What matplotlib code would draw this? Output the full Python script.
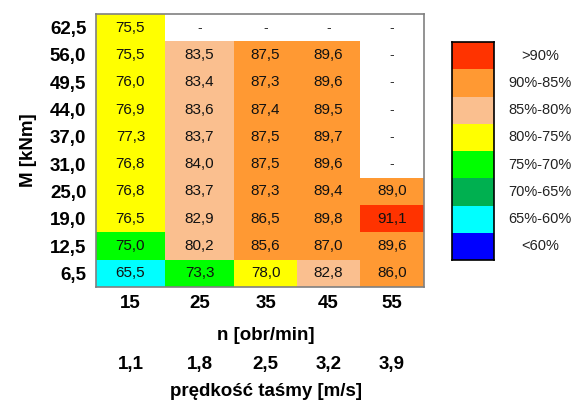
import numpy as np
import matplotlib.pyplot as plt
from matplotlib.patches import Rectangle
from matplotlib.colors import ListedColormap, BoundaryNorm
from matplotlib.transforms import blended_transform_factory

plt.rcParams['font.family'] = ['Liberation Sans', 'DejaVu Sans']

# moment obciazenia (od gory), predkosc obrotowa, predkosc tasmy
M_labels = ['62,5', '56,0', '49,5', '44,0', '37,0', '31,0', '25,0', '19,0', '12,5', '6,5']
n_labels = ['15', '25', '35', '45', '55']
v_labels = ['1,1', '1,8', '2,5', '3,2', '3,9']

# sprawnosc [%], NaN = brak pomiaru
eff = np.array([
    [75.5, np.nan, np.nan, np.nan, np.nan],
    [75.5, 83.5, 87.5, 89.6, np.nan],
    [76.0, 83.4, 87.3, 89.6, np.nan],
    [76.9, 83.6, 87.4, 89.5, np.nan],
    [77.3, 83.7, 87.5, 89.7, np.nan],
    [76.8, 84.0, 87.5, 89.6, np.nan],
    [76.8, 83.7, 87.3, 89.4, 89.0],
    [76.5, 82.9, 86.5, 89.8, 91.1],
    [75.0, 80.2, 85.6, 87.0, 89.6],
    [65.5, 73.3, 78.0, 82.8, 86.0],
])

# klasa sprawnosci komorki (0 = <60% ... 7 = >90%)
klasa = np.array([
    [4, -1, -1, -1, -1],
    [4, 5, 6, 6, -1],
    [4, 5, 6, 6, -1],
    [4, 5, 6, 6, -1],
    [4, 5, 6, 6, -1],
    [4, 5, 6, 6, -1],
    [4, 5, 6, 6, 6],
    [4, 5, 6, 6, 7],
    [3, 5, 6, 6, 6],
    [1, 3, 4, 5, 6],
])

legend_labels = ['<60%', '65%-60%', '70%-65%', '75%-70%', '80%-75%', '85%-80%', '90%-85%', '>90%']
kolory = ['#0000FF', '#00FFFF', '#00B050', '#00FF00', '#FFFF00', '#FABF8F', '#FF9933', '#FF3300']

W, H = 573, 403
fig = plt.figure(figsize=(W / 100, H / 100), dpi=100)
ax = fig.add_axes([96 / W, 1 - 287 / H, 328 / W, 273 / H])

# szerokosci kolumn tabeli
col_w = np.array([69, 69, 63, 63, 64], dtype=float)
xe = np.concatenate([[0], np.cumsum(col_w)])
xc = (xe[:-1] + xe[1:]) / 2
ye = np.arange(len(M_labels) + 1)

cmap = ListedColormap(kolory)
cmap.set_bad('white')
norm = BoundaryNorm(np.arange(-0.5, 8.5), cmap.N)
data = np.ma.masked_less(klasa[::-1], 0)
ax.pcolormesh(xe, ye, data, cmap=cmap, norm=norm)

for i in range(len(M_labels)):
    y = len(M_labels) - 1 - i + 0.5
    for j in range(len(n_labels)):
        v = eff[i, j]
        if np.isnan(v):
            ax.text(xc[j], y, '-', ha='center', va='center', fontsize=10, color='#333333')
        else:
            ax.text(xc[j], y, f'{v:.1f}'.replace('.', ','), ha='center', va='center',
                    fontsize=11, color='#111111')

ax.set_xlim(xe[0], xe[-1])
ax.set_ylim(0, len(M_labels))
ax.set_yticks(np.arange(len(M_labels)) + 0.5)
ax.set_yticklabels(M_labels[::-1], fontsize=13.5, fontweight='bold')
ax.set_xticks(xc)
ax.set_xticklabels(n_labels, fontsize=13.5, fontweight='bold')
ax.tick_params(axis='x', length=0, pad=6)
ax.tick_params(axis='y', length=0, pad=7)
for s in ax.spines.values():
    s.set_color('#808080')
    s.set_linewidth(1.2)

ax.set_ylabel('M [kNm]', fontsize=13.5, fontweight='bold', labelpad=9)

tr = blended_transform_factory(ax.transData, fig.transFigure)
ax.text(xc[2], 1 - 335 / H, 'n [obr/min]', transform=tr, ha='center', va='center',
        fontsize=13.5, fontweight='bold')
for x, lab in zip(xc, v_labels):
    ax.text(x, 1 - 365 / H, lab, transform=tr, ha='center', va='center',
            fontsize=13.5, fontweight='bold')
ax.text(xc[2], 1 - 391 / H, 'prędkość taśmy [m/s]', transform=tr, ha='center', va='center',
        fontsize=13.5, fontweight='bold')

# legenda klas sprawnosci
lax = fig.add_axes([452 / W, 1 - 260 / H, 42 / W, 218 / H])
for k, c in enumerate(kolory):
    lax.add_patch(Rectangle((0, k), 1, 1, facecolor=c, edgecolor='none'))
    lax.text(2.1, k + 0.5, legend_labels[k], ha='center', va='center',
             fontsize=10.5, color='#222222', clip_on=False)
lax.set_xlim(0, 1)
lax.set_ylim(0, len(kolory))
lax.set_xticks([])
lax.set_yticks([])
for s in lax.spines.values():
    s.set_color('black')
    s.set_linewidth(1.2)

fig.savefig('out.png', dpi=100)
